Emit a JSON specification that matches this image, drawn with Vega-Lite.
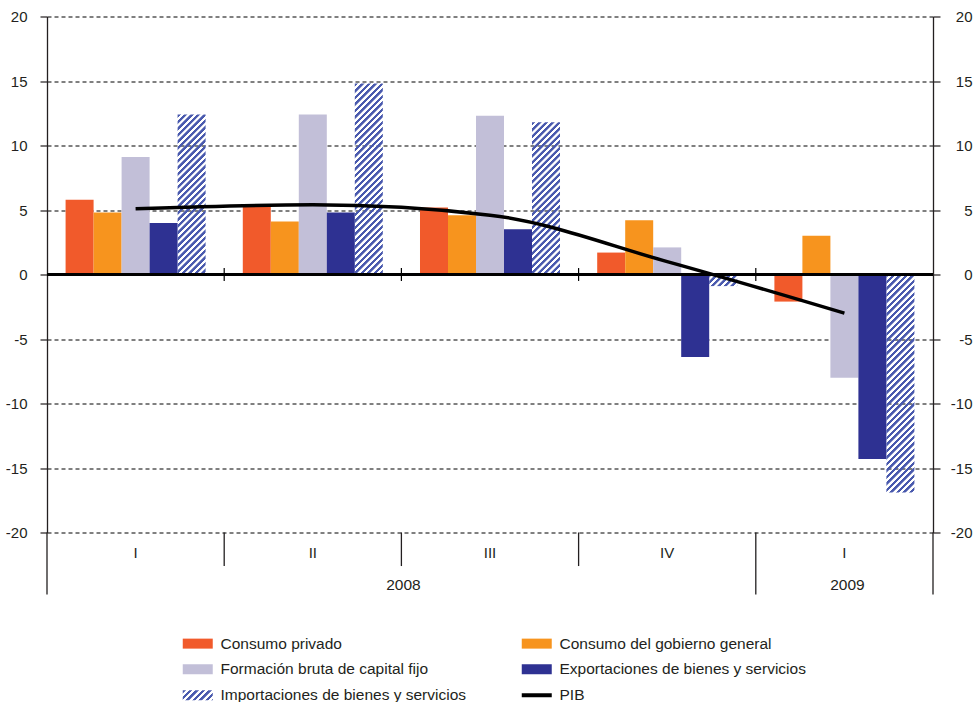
{
  "$schema": "https://vega.github.io/schema/vega-lite/v6.json",
  "width": 886,
  "height": 516,
  "autosize": "none",
  "padding": {"left": 47, "top": 16.5, "right": 40, "bottom": 169.5},
  "background": "white",
  "params": [
    {"name": "hatchStops", "value": [
      {"offset":0,"color":"#4a5aae"},{"offset":0.011,"color":"#4a5aae"},{"offset":0.0135,"color":"rgba(74,90,174,0)"},{"offset":0.0235,"color":"rgba(74,90,174,0)"},
      {"offset":0.025,"color":"#4a5aae"},{"offset":0.036,"color":"#4a5aae"},{"offset":0.0385,"color":"rgba(74,90,174,0)"},{"offset":0.0485,"color":"rgba(74,90,174,0)"},
      {"offset":0.05,"color":"#4a5aae"},{"offset":0.061,"color":"#4a5aae"},{"offset":0.0635,"color":"rgba(74,90,174,0)"},{"offset":0.0735,"color":"rgba(74,90,174,0)"},
      {"offset":0.075,"color":"#4a5aae"},{"offset":0.086,"color":"#4a5aae"},{"offset":0.0885,"color":"rgba(74,90,174,0)"},{"offset":0.0985,"color":"rgba(74,90,174,0)"},
      {"offset":0.1,"color":"#4a5aae"},{"offset":0.111,"color":"#4a5aae"},{"offset":0.1135,"color":"rgba(74,90,174,0)"},{"offset":0.1235,"color":"rgba(74,90,174,0)"},
      {"offset":0.125,"color":"#4a5aae"},{"offset":0.136,"color":"#4a5aae"},{"offset":0.1385,"color":"rgba(74,90,174,0)"},{"offset":0.1485,"color":"rgba(74,90,174,0)"},
      {"offset":0.15,"color":"#4a5aae"},{"offset":0.161,"color":"#4a5aae"},{"offset":0.1635,"color":"rgba(74,90,174,0)"},{"offset":0.1735,"color":"rgba(74,90,174,0)"},
      {"offset":0.175,"color":"#4a5aae"},{"offset":0.186,"color":"#4a5aae"},{"offset":0.1885,"color":"rgba(74,90,174,0)"},{"offset":0.1985,"color":"rgba(74,90,174,0)"},
      {"offset":0.2,"color":"#4a5aae"},{"offset":0.211,"color":"#4a5aae"},{"offset":0.2135,"color":"rgba(74,90,174,0)"},{"offset":0.2235,"color":"rgba(74,90,174,0)"},
      {"offset":0.225,"color":"#4a5aae"},{"offset":0.236,"color":"#4a5aae"},{"offset":0.2385,"color":"rgba(74,90,174,0)"},{"offset":0.2485,"color":"rgba(74,90,174,0)"},
      {"offset":0.25,"color":"#4a5aae"},{"offset":0.261,"color":"#4a5aae"},{"offset":0.2635,"color":"rgba(74,90,174,0)"},{"offset":0.2735,"color":"rgba(74,90,174,0)"},
      {"offset":0.275,"color":"#4a5aae"},{"offset":0.286,"color":"#4a5aae"},{"offset":0.2885,"color":"rgba(74,90,174,0)"},{"offset":0.2985,"color":"rgba(74,90,174,0)"},
      {"offset":0.3,"color":"#4a5aae"},{"offset":0.311,"color":"#4a5aae"},{"offset":0.3135,"color":"rgba(74,90,174,0)"},{"offset":0.3235,"color":"rgba(74,90,174,0)"},
      {"offset":0.325,"color":"#4a5aae"},{"offset":0.336,"color":"#4a5aae"},{"offset":0.3385,"color":"rgba(74,90,174,0)"},{"offset":0.3485,"color":"rgba(74,90,174,0)"},
      {"offset":0.35,"color":"#4a5aae"},{"offset":0.361,"color":"#4a5aae"},{"offset":0.3635,"color":"rgba(74,90,174,0)"},{"offset":0.3735,"color":"rgba(74,90,174,0)"},
      {"offset":0.375,"color":"#4a5aae"},{"offset":0.386,"color":"#4a5aae"},{"offset":0.3885,"color":"rgba(74,90,174,0)"},{"offset":0.3985,"color":"rgba(74,90,174,0)"},
      {"offset":0.4,"color":"#4a5aae"},{"offset":0.411,"color":"#4a5aae"},{"offset":0.4135,"color":"rgba(74,90,174,0)"},{"offset":0.4235,"color":"rgba(74,90,174,0)"},
      {"offset":0.425,"color":"#4a5aae"},{"offset":0.436,"color":"#4a5aae"},{"offset":0.4385,"color":"rgba(74,90,174,0)"},{"offset":0.4485,"color":"rgba(74,90,174,0)"},
      {"offset":0.45,"color":"#4a5aae"},{"offset":0.461,"color":"#4a5aae"},{"offset":0.4635,"color":"rgba(74,90,174,0)"},{"offset":0.4735,"color":"rgba(74,90,174,0)"},
      {"offset":0.475,"color":"#4a5aae"},{"offset":0.486,"color":"#4a5aae"},{"offset":0.4885,"color":"rgba(74,90,174,0)"},{"offset":0.4985,"color":"rgba(74,90,174,0)"},
      {"offset":0.5,"color":"#4a5aae"},{"offset":0.511,"color":"#4a5aae"},{"offset":0.5135,"color":"rgba(74,90,174,0)"},{"offset":0.5235,"color":"rgba(74,90,174,0)"},
      {"offset":0.525,"color":"#4a5aae"},{"offset":0.536,"color":"#4a5aae"},{"offset":0.5385,"color":"rgba(74,90,174,0)"},{"offset":0.5485,"color":"rgba(74,90,174,0)"},
      {"offset":0.55,"color":"#4a5aae"},{"offset":0.561,"color":"#4a5aae"},{"offset":0.5635,"color":"rgba(74,90,174,0)"},{"offset":0.5735,"color":"rgba(74,90,174,0)"},
      {"offset":0.575,"color":"#4a5aae"},{"offset":0.586,"color":"#4a5aae"},{"offset":0.5885,"color":"rgba(74,90,174,0)"},{"offset":0.5985,"color":"rgba(74,90,174,0)"},
      {"offset":0.6,"color":"#4a5aae"},{"offset":0.611,"color":"#4a5aae"},{"offset":0.6135,"color":"rgba(74,90,174,0)"},{"offset":0.6235,"color":"rgba(74,90,174,0)"},
      {"offset":0.625,"color":"#4a5aae"},{"offset":0.636,"color":"#4a5aae"},{"offset":0.6385,"color":"rgba(74,90,174,0)"},{"offset":0.6485,"color":"rgba(74,90,174,0)"},
      {"offset":0.65,"color":"#4a5aae"},{"offset":0.661,"color":"#4a5aae"},{"offset":0.6635,"color":"rgba(74,90,174,0)"},{"offset":0.6735,"color":"rgba(74,90,174,0)"},
      {"offset":0.675,"color":"#4a5aae"},{"offset":0.686,"color":"#4a5aae"},{"offset":0.6885,"color":"rgba(74,90,174,0)"},{"offset":0.6985,"color":"rgba(74,90,174,0)"},
      {"offset":0.7,"color":"#4a5aae"},{"offset":0.711,"color":"#4a5aae"},{"offset":0.7135,"color":"rgba(74,90,174,0)"},{"offset":0.7235,"color":"rgba(74,90,174,0)"},
      {"offset":0.725,"color":"#4a5aae"},{"offset":0.736,"color":"#4a5aae"},{"offset":0.7385,"color":"rgba(74,90,174,0)"},{"offset":0.7485,"color":"rgba(74,90,174,0)"},
      {"offset":0.75,"color":"#4a5aae"},{"offset":0.761,"color":"#4a5aae"},{"offset":0.7635,"color":"rgba(74,90,174,0)"},{"offset":0.7735,"color":"rgba(74,90,174,0)"},
      {"offset":0.775,"color":"#4a5aae"},{"offset":0.786,"color":"#4a5aae"},{"offset":0.7885,"color":"rgba(74,90,174,0)"},{"offset":0.7985,"color":"rgba(74,90,174,0)"},
      {"offset":0.8,"color":"#4a5aae"},{"offset":0.811,"color":"#4a5aae"},{"offset":0.8135,"color":"rgba(74,90,174,0)"},{"offset":0.8235,"color":"rgba(74,90,174,0)"},
      {"offset":0.825,"color":"#4a5aae"},{"offset":0.836,"color":"#4a5aae"},{"offset":0.8385,"color":"rgba(74,90,174,0)"},{"offset":0.8485,"color":"rgba(74,90,174,0)"},
      {"offset":0.85,"color":"#4a5aae"},{"offset":0.861,"color":"#4a5aae"},{"offset":0.8635,"color":"rgba(74,90,174,0)"},{"offset":0.8735,"color":"rgba(74,90,174,0)"},
      {"offset":0.875,"color":"#4a5aae"},{"offset":0.886,"color":"#4a5aae"},{"offset":0.8885,"color":"rgba(74,90,174,0)"},{"offset":0.8985,"color":"rgba(74,90,174,0)"},
      {"offset":0.9,"color":"#4a5aae"},{"offset":0.911,"color":"#4a5aae"},{"offset":0.9135,"color":"rgba(74,90,174,0)"},{"offset":0.9235,"color":"rgba(74,90,174,0)"},
      {"offset":0.925,"color":"#4a5aae"},{"offset":0.936,"color":"#4a5aae"},{"offset":0.9385,"color":"rgba(74,90,174,0)"},{"offset":0.9485,"color":"rgba(74,90,174,0)"},
      {"offset":0.95,"color":"#4a5aae"},{"offset":0.961,"color":"#4a5aae"},{"offset":0.9635,"color":"rgba(74,90,174,0)"},{"offset":0.9735,"color":"rgba(74,90,174,0)"},
      {"offset":0.975,"color":"#4a5aae"},{"offset":0.986,"color":"#4a5aae"},{"offset":0.9885,"color":"rgba(74,90,174,0)"},{"offset":0.9985,"color":"rgba(74,90,174,0)"},
      {"offset":1,"color":"#4a5aae"}
    ]}
  ],
  "data": {"values": [
    {"q": "2008-I", "series": "Consumo privado", "value": 5.8},
    {"q": "2008-I", "series": "Consumo del gobierno general", "value": 4.8},
    {"q": "2008-I", "series": "Formación bruta de capital fijo", "value": 9.1},
    {"q": "2008-I", "series": "Exportaciones de bienes y servicios", "value": 4.0},
    {"q": "2008-I", "series": "Importaciones de bienes y servicios", "value": 12.4},
    {"q": "2008-I", "series": "PIB", "value": 5.1},
    {"q": "2008-II", "series": "Consumo privado", "value": 5.3},
    {"q": "2008-II", "series": "Consumo del gobierno general", "value": 4.1},
    {"q": "2008-II", "series": "Formación bruta de capital fijo", "value": 12.4},
    {"q": "2008-II", "series": "Exportaciones de bienes y servicios", "value": 4.8},
    {"q": "2008-II", "series": "Importaciones de bienes y servicios", "value": 14.8},
    {"q": "2008-II", "series": "PIB", "value": 5.4},
    {"q": "2008-III", "series": "Consumo privado", "value": 5.2},
    {"q": "2008-III", "series": "Consumo del gobierno general", "value": 4.6},
    {"q": "2008-III", "series": "Formación bruta de capital fijo", "value": 12.3},
    {"q": "2008-III", "series": "Exportaciones de bienes y servicios", "value": 3.5},
    {"q": "2008-III", "series": "Importaciones de bienes y servicios", "value": 11.8},
    {"q": "2008-III", "series": "PIB", "value": 4.6},
    {"q": "2008-IV", "series": "Consumo privado", "value": 1.7},
    {"q": "2008-IV", "series": "Consumo del gobierno general", "value": 4.2},
    {"q": "2008-IV", "series": "Formación bruta de capital fijo", "value": 2.1},
    {"q": "2008-IV", "series": "Exportaciones de bienes y servicios", "value": -6.4},
    {"q": "2008-IV", "series": "Importaciones de bienes y servicios", "value": -0.9},
    {"q": "2008-IV", "series": "PIB", "value": 1.0},
    {"q": "2009-I", "series": "Consumo privado", "value": -2.1},
    {"q": "2009-I", "series": "Consumo del gobierno general", "value": 3.0},
    {"q": "2009-I", "series": "Formación bruta de capital fijo", "value": -8.0},
    {"q": "2009-I", "series": "Exportaciones de bienes y servicios", "value": -14.3},
    {"q": "2009-I", "series": "Importaciones de bienes y servicios", "value": -16.9},
    {"q": "2009-I", "series": "PIB", "value": -3.0}
  ]},
  "resolve": {"axis": {"y": "independent"}},
  "layer": [
    {
      "transform": [{"filter": "datum.series !== 'PIB' && datum.series !== 'Importaciones de bienes y servicios'"}],
      "mark": {"type": "bar"},
      "encoding": {
        "x": {"field": "q", "type": "nominal", "title": null,
              "scale": {"domain": ["2008-I", "2008-II", "2008-III", "2008-IV", "2009-I"], "paddingInner": 0, "paddingOuter": 0},
              "axis": {"labelExpr": "split(datum.value, '-')[1]", "orient": "bottom"}},
        "xOffset": {"field": "series", "type": "nominal",
              "scale": {"domain": ["Consumo privado", "Consumo del gobierno general", "Formación bruta de capital fijo", "Exportaciones de bienes y servicios", "Importaciones de bienes y servicios"], "paddingInner": 0, "paddingOuter": 0.664}},
        "y": {"field": "value", "type": "quantitative", "title": null,
              "scale": {"domain": [-20, 20], "nice": false, "zero": false},
              "axis": {"orient": "left", "values": [-20, -15, -10, -5, 0, 5, 10, 15, 20], "grid": true,
                       "labelExpr": "datum.value < 0 ? '-' + abs(datum.value) : '' + datum.value"}},
        "color": {"field": "series", "type": "nominal",
              "scale": {"domain": ["Consumo privado", "Consumo del gobierno general", "Formación bruta de capital fijo", "Exportaciones de bienes y servicios", "Importaciones de bienes y servicios", "PIB"],
                        "range": ["#f15a2b", "#f7941e", "#c2bfd8", "#2e3192", {"expr": "{gradient: 'linear', x1: 0, y1: 0, x2: 7.8, y2: 2.6, stops: hatchStops}"}, "#000000"]},
              "legend": {
                "orient": "none", "legendX": 143, "legendY": 619, "columns": 2, "direction": "horizontal", "title": null,
                "symbolSize": 100, "labelOffset": 15, "labelFontSize": 15.5, "labelColor": "#231f20", "labelFont": "Liberation Sans",
                "labelLimit": 400, "rowPadding": 9, "columnPadding": 54, "padding": 0,
                "encode": {"symbols": {"update": {
                  "shape": {"signal": "datum.value === 'PIB' ? 'M-3,-0.4H3V0.4H-3Z' : 'M-3,-1H3V1H-3Z'"},
                  "stroke": {"value": "transparent"},
                  "strokeWidth": {"value": 0},
                  "opacity": {"value": 1},
                  "fillOpacity": {"value": 1}
                }}}
              }}
      }
    },
    {
      "transform": [{"filter": "datum.series === 'Importaciones de bienes y servicios'"}],
      "mark": {"type": "bar", "fill": {"expr": "{gradient: 'linear', x1: 0, y1: 0, x2: 260 * bandwidth('xOffset') / (pow(bandwidth('xOffset'), 2) + pow(scale('y', datum.value) - scale('y', 0), 2)), y2: 260 * abs(scale('y', datum.value) - scale('y', 0)) / (pow(bandwidth('xOffset'), 2) + pow(scale('y', datum.value) - scale('y', 0), 2)), stops: hatchStops}"}},
      "encoding": {
        "x": {"field": "q", "type": "nominal", "title": null},
        "xOffset": {"field": "series", "type": "nominal"},
        "y": {"field": "value", "type": "quantitative", "title": null,
              "axis": {"orient": "right", "values": [-20, -15, -10, -5, 0, 5, 10, 15, 20], "grid": false,
                       "labelExpr": "datum.value < 0 ? '-' + abs(datum.value) : '' + datum.value"}}
      }
    },
    {
      "mark": {"type": "rule", "color": "#000000", "strokeWidth": 1.3},
      "encoding": {"y": {"datum": 0, "type": "quantitative", "axis": null}}
    },
    {
      "transform": [{"filter": "datum.series === 'PIB' && datum.q !== '2008-I'"}],
      "mark": {"type": "rule", "color": "#000000", "strokeWidth": 1.2},
      "encoding": {
        "x": {"field": "q", "type": "nominal", "title": null, "bandPosition": 0},
        "y": {"datum": -0.5, "type": "quantitative", "axis": null},
        "y2": {"datum": 0.5}
      }
    },
    {
      "transform": [{"filter": "datum.series === 'PIB' && (datum.q === '2008-II' || datum.q === '2008-III' || datum.q === '2008-IV')"}],
      "mark": {"type": "rule", "color": "#231f20", "strokeWidth": 1.3},
      "encoding": {
        "x": {"field": "q", "type": "nominal", "title": null, "bandPosition": 0},
        "y": {"datum": -20, "type": "quantitative", "axis": null},
        "y2": {"datum": -22.6}
      }
    },
    {
      "transform": [{"filter": "datum.series === 'PIB' && (datum.q === '2008-I' || datum.q === '2009-I')"}],
      "mark": {"type": "rule", "color": "#231f20", "strokeWidth": 1.3},
      "encoding": {
        "x": {"field": "q", "type": "nominal", "title": null, "bandPosition": 0},
        "y": {"datum": -20, "type": "quantitative", "axis": null},
        "y2": {"datum": -24.8}
      }
    },
    {
      "transform": [{"filter": "datum.series === 'PIB' && datum.q === '2009-I'"}],
      "mark": {"type": "rule", "color": "#231f20", "strokeWidth": 1.3},
      "encoding": {
        "x": {"field": "q", "type": "nominal", "title": null, "bandPosition": 1},
        "y": {"datum": -20, "type": "quantitative", "axis": null},
        "y2": {"datum": -24.8}
      }
    },
    {
      "data": {"values": [{"year": "2008", "q": "2008-II"}]},
      "mark": {"type": "text", "fontSize": 15.5, "color": "#231f20", "baseline": "middle", "align": "center", "dx": 2},
      "encoding": {
        "x": {"field": "q", "type": "nominal", "title": null, "bandPosition": 1},
        "y": {"datum": -24.05, "type": "quantitative", "axis": null},
        "text": {"field": "year"}
      }
    },
    {
      "data": {"values": [{"year": "2009", "q": "2009-I"}]},
      "mark": {"type": "text", "fontSize": 15.5, "color": "#231f20", "baseline": "middle", "align": "center", "dx": 3},
      "encoding": {
        "x": {"field": "q", "type": "nominal", "title": null, "bandPosition": 0.5},
        "y": {"datum": -24.05, "type": "quantitative", "axis": null},
        "text": {"field": "year"}
      }
    },
    {
      "transform": [{"filter": "datum.series === 'PIB'"}],
      "mark": {"type": "line", "interpolate": "monotone", "strokeWidth": 3.5, "strokeCap": "butt"},
      "encoding": {
        "x": {"field": "q", "type": "nominal", "title": null},
        "y": {"field": "value", "type": "quantitative", "axis": null},
        "color": {"field": "series", "type": "nominal"}
      }
    }
  ],
  "config": {
    "view": {"stroke": null},
    "font": "Liberation Sans",
    "axisLeft": {"domain": true, "domainColor": "#231f20", "domainWidth": 1.3, "ticks": true, "tickSize": 7, "tickColor": "#231f20", "tickWidth": 1.2,
                 "labelPadding": 13, "labelFontSize": 15, "labelColor": "#231f20", "labelFont": "Liberation Sans",
                 "gridColor": "#000000", "gridDash": [4, 3], "gridWidth": 1, "gridOpacity": 1},
    "axisRight": {"domain": true, "domainColor": "#231f20", "domainWidth": 1.3, "ticks": true, "tickSize": 7, "tickColor": "#231f20", "tickWidth": 1.2,
                  "labelPadding": 32, "labelAlign": "right", "labelFontSize": 15, "labelColor": "#231f20", "labelFont": "Liberation Sans", "grid": false},
    "axisBottom": {"domain": false, "ticks": false, "grid": false, "labelPadding": 13, "labelFontSize": 15, "labelColor": "#231f20", "labelFont": "Liberation Sans", "labelAngle": 0}
  }
}
